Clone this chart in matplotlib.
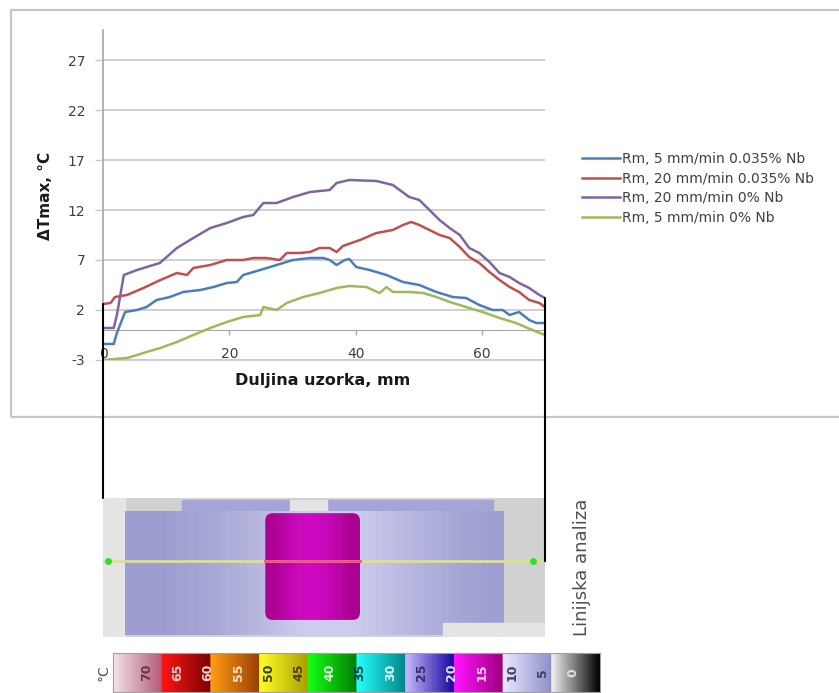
import numpy as np
import matplotlib
matplotlib.use("Agg")
import matplotlib.pyplot as plt
from matplotlib.colors import ListedColormap, Normalize, to_rgb
from matplotlib.patches import Rectangle, FancyBboxPatch, ConnectionPatch

plt.rcParams["axes.unicode_minus"] = False

# line profiles (x in mm, dT in C)
x_blue = [0, 1.7, 2.2, 3.5, 5.4, 6.9, 8.5, 10.6, 12.7, 15.4, 17.5, 19.6, 21.2, 22.2, 24.9, 27.5, 30.1, 32.8, 34.9, 35.9,
          37.0, 38.3, 39.0, 40.1, 42.2, 44.9, 47.5, 50.1, 52.8, 55.4, 57.5, 59.6, 61.7, 63.3, 64.4, 65.9, 67.5, 68.6, 70]
y_blue = [-1.4, -1.4, -0.3, 1.8, 2.0, 2.3, 3.0, 3.3, 3.8, 4.0, 4.3, 4.7, 4.8, 5.5, 6.0, 6.5, 7.0, 7.2, 7.2, 7.0,
          6.5, 7.0, 7.1, 6.3, 6.0, 5.5, 4.8, 4.5, 3.8, 3.3, 3.2, 2.5, 2.0, 2.0, 1.5, 1.8, 1.0, 0.7, 0.7]

x_red = [0, 1.2, 1.9, 3.8, 6.4, 9.1, 11.7, 13.3, 14.3, 17.0, 19.6, 22.2, 23.8, 25.9, 28.0, 29.1, 31.2, 32.8, 34.3, 35.9,
         37.0, 38.0, 40.7, 43.3, 45.9, 47.5, 48.8, 50.1, 51.7, 53.3, 54.9, 56.5, 58.0, 59.6, 61.2, 62.8, 64.4, 65.9,
         67.5, 69.1, 70]
y_red = [2.6, 2.7, 3.3, 3.5, 4.2, 5.0, 5.7, 5.5, 6.2, 6.5, 7.0, 7.0, 7.2, 7.2, 7.0, 7.7, 7.7, 7.8, 8.2, 8.2,
         7.8, 8.4, 9.0, 9.7, 10.0, 10.5, 10.8, 10.5, 10.0, 9.5, 9.2, 8.3, 7.3, 6.7, 5.8, 5.0, 4.3, 3.8,
         3.0, 2.7, 2.3]

x_pur = [0, 1.7, 2.2, 3.3, 5.4, 9.0, 11.7, 14.3, 17.0, 19.6, 22.2, 23.8, 25.4, 27.5, 30.1, 32.8, 35.9, 37.0, 39.0, 43.3,
         45.9, 48.5, 50.1, 51.7, 53.3, 54.9, 56.5, 58.0, 59.6, 61.2, 62.8, 64.4, 65.9, 67.5, 69.1, 70]
y_pur = [0.2, 0.2, 1.5, 5.5, 6.0, 6.7, 8.2, 9.2, 10.2, 10.7, 11.3, 11.5, 12.7, 12.7, 13.3, 13.8, 14.0, 14.7, 15.0, 14.9,
         14.5, 13.3, 13.0, 12.0, 11.0, 10.2, 9.5, 8.2, 7.7, 6.8, 5.7, 5.3, 4.7, 4.2, 3.5, 3.2]

x_grn = [0, 3.8, 5.4, 6.9, 9.1, 11.7, 14.3, 17.0, 19.6, 22.2, 24.9, 25.4, 27.5, 29.1, 31.7, 34.3, 37.0, 39.0, 41.7, 43.8,
         44.9, 45.9, 48.5, 50.7, 52.8, 54.9, 57.5, 60.1, 62.8, 65.4, 68.0, 70]
y_grn = [-3.0, -2.8, -2.5, -2.2, -1.8, -1.2, -0.5, 0.2, 0.8, 1.3, 1.5, 2.3, 2.0, 2.7, 3.3, 3.7, 4.2, 4.4, 4.3, 3.7,
         4.3, 3.8, 3.8, 3.7, 3.3, 2.8, 2.3, 1.8, 1.2, 0.7, 0.0, -0.5]

labels = ["Rm, 5 mm/min 0.035% Nb", "Rm, 20 mm/min 0.035% Nb", "Rm, 20 mm/min 0% Nb", "Rm, 5 mm/min 0% Nb"]
colors = ["#4a7ebb", "#c0504d", "#8064a2", "#9bbb59"]
series = [(x_blue, y_blue), (x_red, y_red), (x_pur, y_pur), (x_grn, y_grn)]

y_ticks = [-3, 2, 7, 12, 17, 22, 27]
x_ticks = [0, 20, 40, 60]

# thermal camera scale (segments light -> dark, left to right)
scale_segments = [("#f4e2ea", "#b45c7c"), ("#ff1414", "#7c0404"), ("#ff9c14", "#9c4004"),
                  ("#ffff24", "#aca004"), ("#14ff14", "#048004"), ("#24ffff", "#048888"),
                  ("#c8b8ff", "#1808a0"), ("#ff14ff", "#a00084"), ("#e8e8ff", "#9090c8"),
                  ("#f0f0f0", "#000000")]
scale_max, scale_min = 75.6, -4.4
scale_labels = [70, 65, 60, 55, 50, 45, 40, 35, 30, 25, 20, 15, 10, 5, 0]
scale_label_colors = ["#6c3444", "#f4c8c8", "#f4d4d4", "#ffe4c8", "#404000", "#4c4400", "#d4ffd4", "#004444",
                      "#d4ffff", "#303060", "#e0e0ff", "#ffd4ff", "#404060", "#404060", "#e0e0e0"]

# thermal image: temperatures
bg_temp = 2.5
body_temp = [4.8, 5.0, 5.5, 6.0, 6.8, 7.8, 9.0, 9.0, 9.0, 8.2, 7.2, 6.4, 5.6, 5.0]
strip_temp = 5.5
light_gray_temp = 3.0
hot_temp = [12.6, 14.0, 15.2, 15.6, 15.0, 13.8, 12.4]

W, H = 839, 693
fig = plt.figure(figsize=(W / 100, H / 100), dpi=100)


def fx(p):
    return p / W


def fy(p):
    return 1 - p / H


# chart frame
fig.add_artist(Rectangle((fx(11), fy(417)), 1.2, 407 / H, transform=fig.transFigure,
                         fill=False, ec="#c6c6c6", lw=1.6))

ax = fig.add_axes([fx(103), fy(360), 442 / W, 330 / H])
lines = []
for (xs, ys), c, lab in zip(series, colors, labels):
    ln, = ax.plot(xs, ys, color=c, lw=1.8, label=lab, zorder=3)
    lines.append(ln)
ax.set_xlim(0, 70)
ax.set_ylim(-3, 30)
ax.set_yticks(y_ticks)
ax.set_xticks(x_ticks)
for s in ["top", "right"]:
    ax.spines[s].set_visible(False)
ax.spines["bottom"].set_position(("data", 0))
ax.spines["bottom"].set_color("#a6a6a6")
ax.spines["left"].set_color("#a6a6a6")
ax.spines["left"].set_linewidth(1.2)
ax.tick_params(axis="y", length=5.8, width=1, color="#c8c8c8", pad=7, labelsize=10, labelcolor="#404040")
ax.tick_params(axis="x", length=3.6, width=1, color="#a6a6a6", pad=9, labelsize=10, labelcolor="#404040")
ax.yaxis.grid(True, color="#cccccc", lw=1.3)
ax.axhline(y_ticks[0], color="#cccccc", lw=1.3, clip_on=False, zorder=0.5)
ax.set_axisbelow(True)

fig.text(fx(45), fy(196), "ΔTmax, °C", rotation=90, fontsize=11, fontweight="bold",
         ha="center", va="center", color="#1a1a1a")
fig.text(fx(323), fy(381), "Duljina uzorka, mm", fontsize=11.5, fontweight="bold",
         ha="center", va="center", color="#1a1a1a")

ax.legend(handles=lines, loc="upper left", bbox_to_anchor=(fx(582), fy(152)), bbox_transform=fig.transFigure,
          frameon=False, fontsize=10, handlelength=2.75, handletextpad=0.1, labelspacing=0.4,
          borderpad=0, borderaxespad=0, labelcolor="#404040")

# colour scale
cols = []
for c0, c1 in scale_segments:
    a, b = np.array(to_rgb(c0)), np.array(to_rgb(c1))
    cols += [a + (b - a) * t for t in np.linspace(0, 1, 40)]
cmap = ListedColormap(cols[::-1])
norm = Normalize(scale_min, scale_max)

# thermal image
tax = fig.add_axes([fx(103), fy(637), 442 / W, 139 / H])
tax.add_patch(Rectangle((0, 0), 70, 22, color=cmap(norm(bg_temp)), zorder=0.1))
tax.add_patch(Rectangle((0, 0), 3.5, 22, color=cmap(norm(light_gray_temp)), zorder=0.2))
tax.add_patch(Rectangle((12.5, 0.3), 49.3, 2.0, color=cmap(norm(strip_temp)), zorder=0.2))
tax.add_patch(Rectangle((29.6, 0.3), 5.9, 2.0, color=cmap(norm(light_gray_temp)), zorder=0.3))
tax.imshow(np.array(body_temp)[None, :], cmap=cmap, norm=norm, extent=(3.5, 63.4, 21.7, 2.2),
           aspect="auto", interpolation="bilinear", zorder=1)
tax.add_patch(Rectangle((53.9, 19.8), 16.1, 2.2, color=cmap(norm(light_gray_temp)), zorder=1.5))
r = 1.2
hot_box = FancyBboxPatch((25.7 + r, 2.4 + r), 15.0 - 2 * r, 16.9 - 2 * r, boxstyle=f"round,pad={r}",
                         transform=tax.transData, fc="none", ec="none")
tax.add_patch(hot_box)
im = tax.imshow(np.array(hot_temp)[None, :], cmap=cmap, norm=norm, extent=(25.7, 40.7, 19.3, 2.4),
                aspect="auto", interpolation="bilinear", zorder=2)
im.set_clip_path(hot_box)
scan_y = 10.0
tax.plot([0, 70], [scan_y, scan_y], color="#dede96", lw=2, zorder=3)
tax.plot([25.7, 40.7], [scan_y, scan_y], color="#f0508c", lw=2, zorder=3)
tax.plot([0.8, 68.1], [scan_y, scan_y], "o", color="#33dd33", ms=5, mec="none", zorder=4)
tax.set_xlim(0, 70)
tax.set_ylim(22, 0)
tax.axis("off")

# black guide lines from the chart to the image
left_top = max(s[1][0] for s in series)
right_top = max(s[1][-1] for s in series)
fig.add_artist(ConnectionPatch(xyA=(0, left_top), coordsA=ax.transData, xyB=(0, 0), coordsB=tax.transData,
                               color="black", lw=1.5))
fig.add_artist(ConnectionPatch(xyA=(70, right_top), coordsA=ax.transData, xyB=(70, scan_y),
                               coordsB=tax.transData, color="black", lw=1.5))

fig.text(fx(582), fy(567), "Linijska analiza", rotation=90, fontsize=13, color="#505050",
         ha="center", va="center")

# colour bar
cax = fig.add_axes([fx(113), fy(692), 487 / W, 39 / H])
cax.imshow(np.linspace(scale_max, scale_min, 400)[None, :], cmap=cmap, norm=norm,
           extent=(scale_max, scale_min, 0, 1), aspect="auto")
cax.set_xlim(scale_max, scale_min)
cax.set_ylim(0, 1)
cax.set_xticks([])
cax.set_yticks([])
for s in cax.spines.values():
    s.set_color("#a0a0a0")
for v, c in zip(scale_labels, scale_label_colors):
    cax.text(v, 0.5, str(v), rotation=90, ha="center", va="center", fontsize=9, fontweight="bold", color=c)
fig.text(fx(104), fy(673), "°C", rotation=90, fontsize=10, color="#505050", ha="center", va="center")

fig.savefig("out.png", dpi=100)
